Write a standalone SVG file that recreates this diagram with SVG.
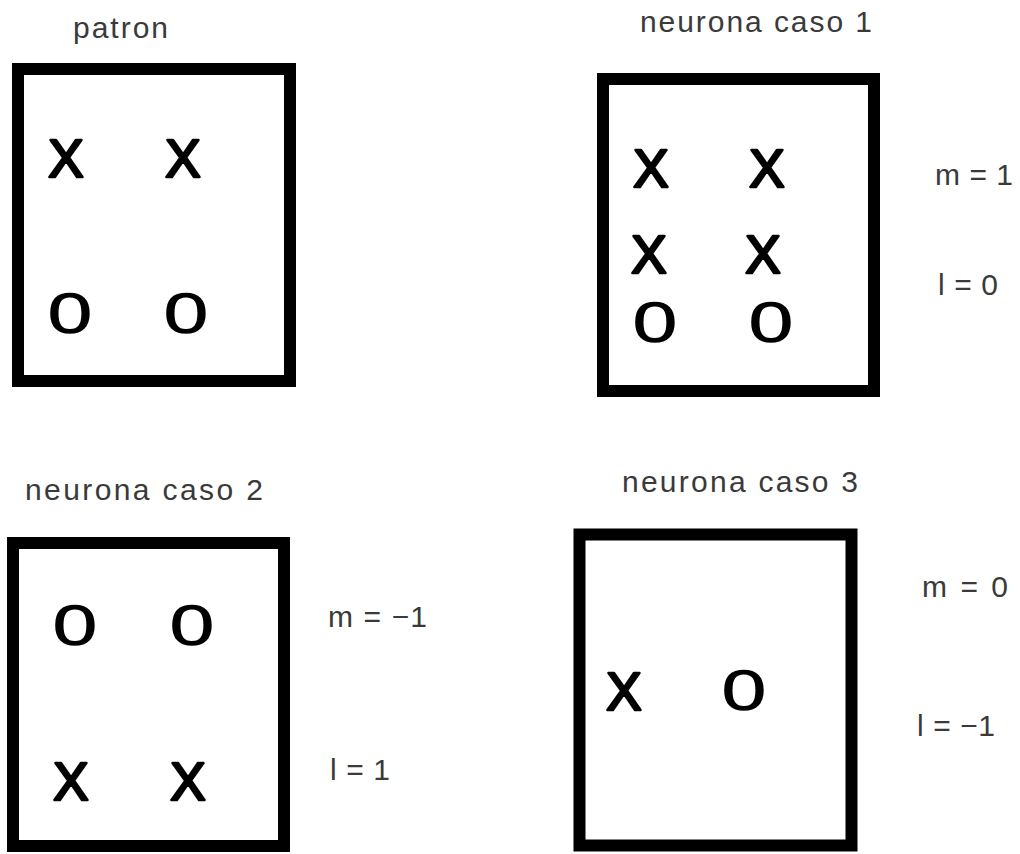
<svg xmlns="http://www.w3.org/2000/svg" width="1020" height="854" viewBox="0 0 1020 854">
<style>
.box{fill:#fff;stroke:#000;stroke-width:12}
.x{font-family:"Liberation Sans",Arial,sans-serif;font-size:53px;fill:#000;stroke:#000;stroke-width:2.6;stroke-linejoin:round;text-anchor:middle}
.o{font-family:"Liberation Serif","Times New Roman",serif;font-size:58px;fill:#000;stroke:#000;stroke-width:2.4;text-anchor:middle}
.lbl{font-family:"Liberation Sans",Arial,sans-serif;font-size:30px;fill:#3a3a3a}
</style>
<rect width="1020" height="854" fill="#fff"/>
<g id="patron">
<text class="lbl" x="73" y="38" textLength="95" lengthAdjust="spacing">patron</text>
<rect class="box" x="18" y="69" width="272" height="312"/>
<text class="x" x="66" y="177">X</text>
<text class="x" x="183" y="177">X</text>
<text class="o" x="70" y="332">O</text>
<text class="o" x="186" y="332">O</text>
</g>
<g id="caso1">
<text class="lbl" x="640" y="32" textLength="232" lengthAdjust="spacing">neurona caso 1</text>
<rect class="box" x="603" y="79" width="271" height="312"/>
<text class="x" x="651" y="187">X</text>
<text class="x" x="767" y="187">X</text>
<text class="x" x="649" y="273">X</text>
<text class="x" x="763" y="273">X</text>
<text class="o" x="655" y="341">O</text>
<text class="o" x="771" y="341">O</text>
<text class="lbl" x="935" y="185" textLength="78" lengthAdjust="spacing">m = 1</text>
<text class="lbl" x="938" y="295" textLength="60" lengthAdjust="spacing">l = 0</text>
</g>
<g id="caso2">
<text class="lbl" x="25" y="500" textLength="238" lengthAdjust="spacing">neurona caso 2</text>
<rect class="box" x="13" y="543" width="271" height="303"/>
<text class="o" x="75" y="644">O</text>
<text class="o" x="192" y="644">O</text>
<text class="x" x="71" y="800">X</text>
<text class="x" x="188" y="800">X</text>
<text class="lbl" x="328" y="627" textLength="99" lengthAdjust="spacing">m = −1</text>
<text class="lbl" x="330" y="780" textLength="60" lengthAdjust="spacing">l = 1</text>
</g>
<g id="caso3">
<text class="lbl" x="622" y="492" textLength="236" lengthAdjust="spacing">neurona caso 3</text>
<rect class="box" x="579.5" y="534.5" width="272" height="311"/>
<text class="x" x="624" y="710">X</text>
<text class="o" x="744" y="709">O</text>
<text class="lbl" x="922" y="597" textLength="86" lengthAdjust="spacing">m = 0</text>
<text class="lbl" x="917" y="736" textLength="78" lengthAdjust="spacing">l = −1</text>
</g>
<g id="connectors"/>
</svg>
